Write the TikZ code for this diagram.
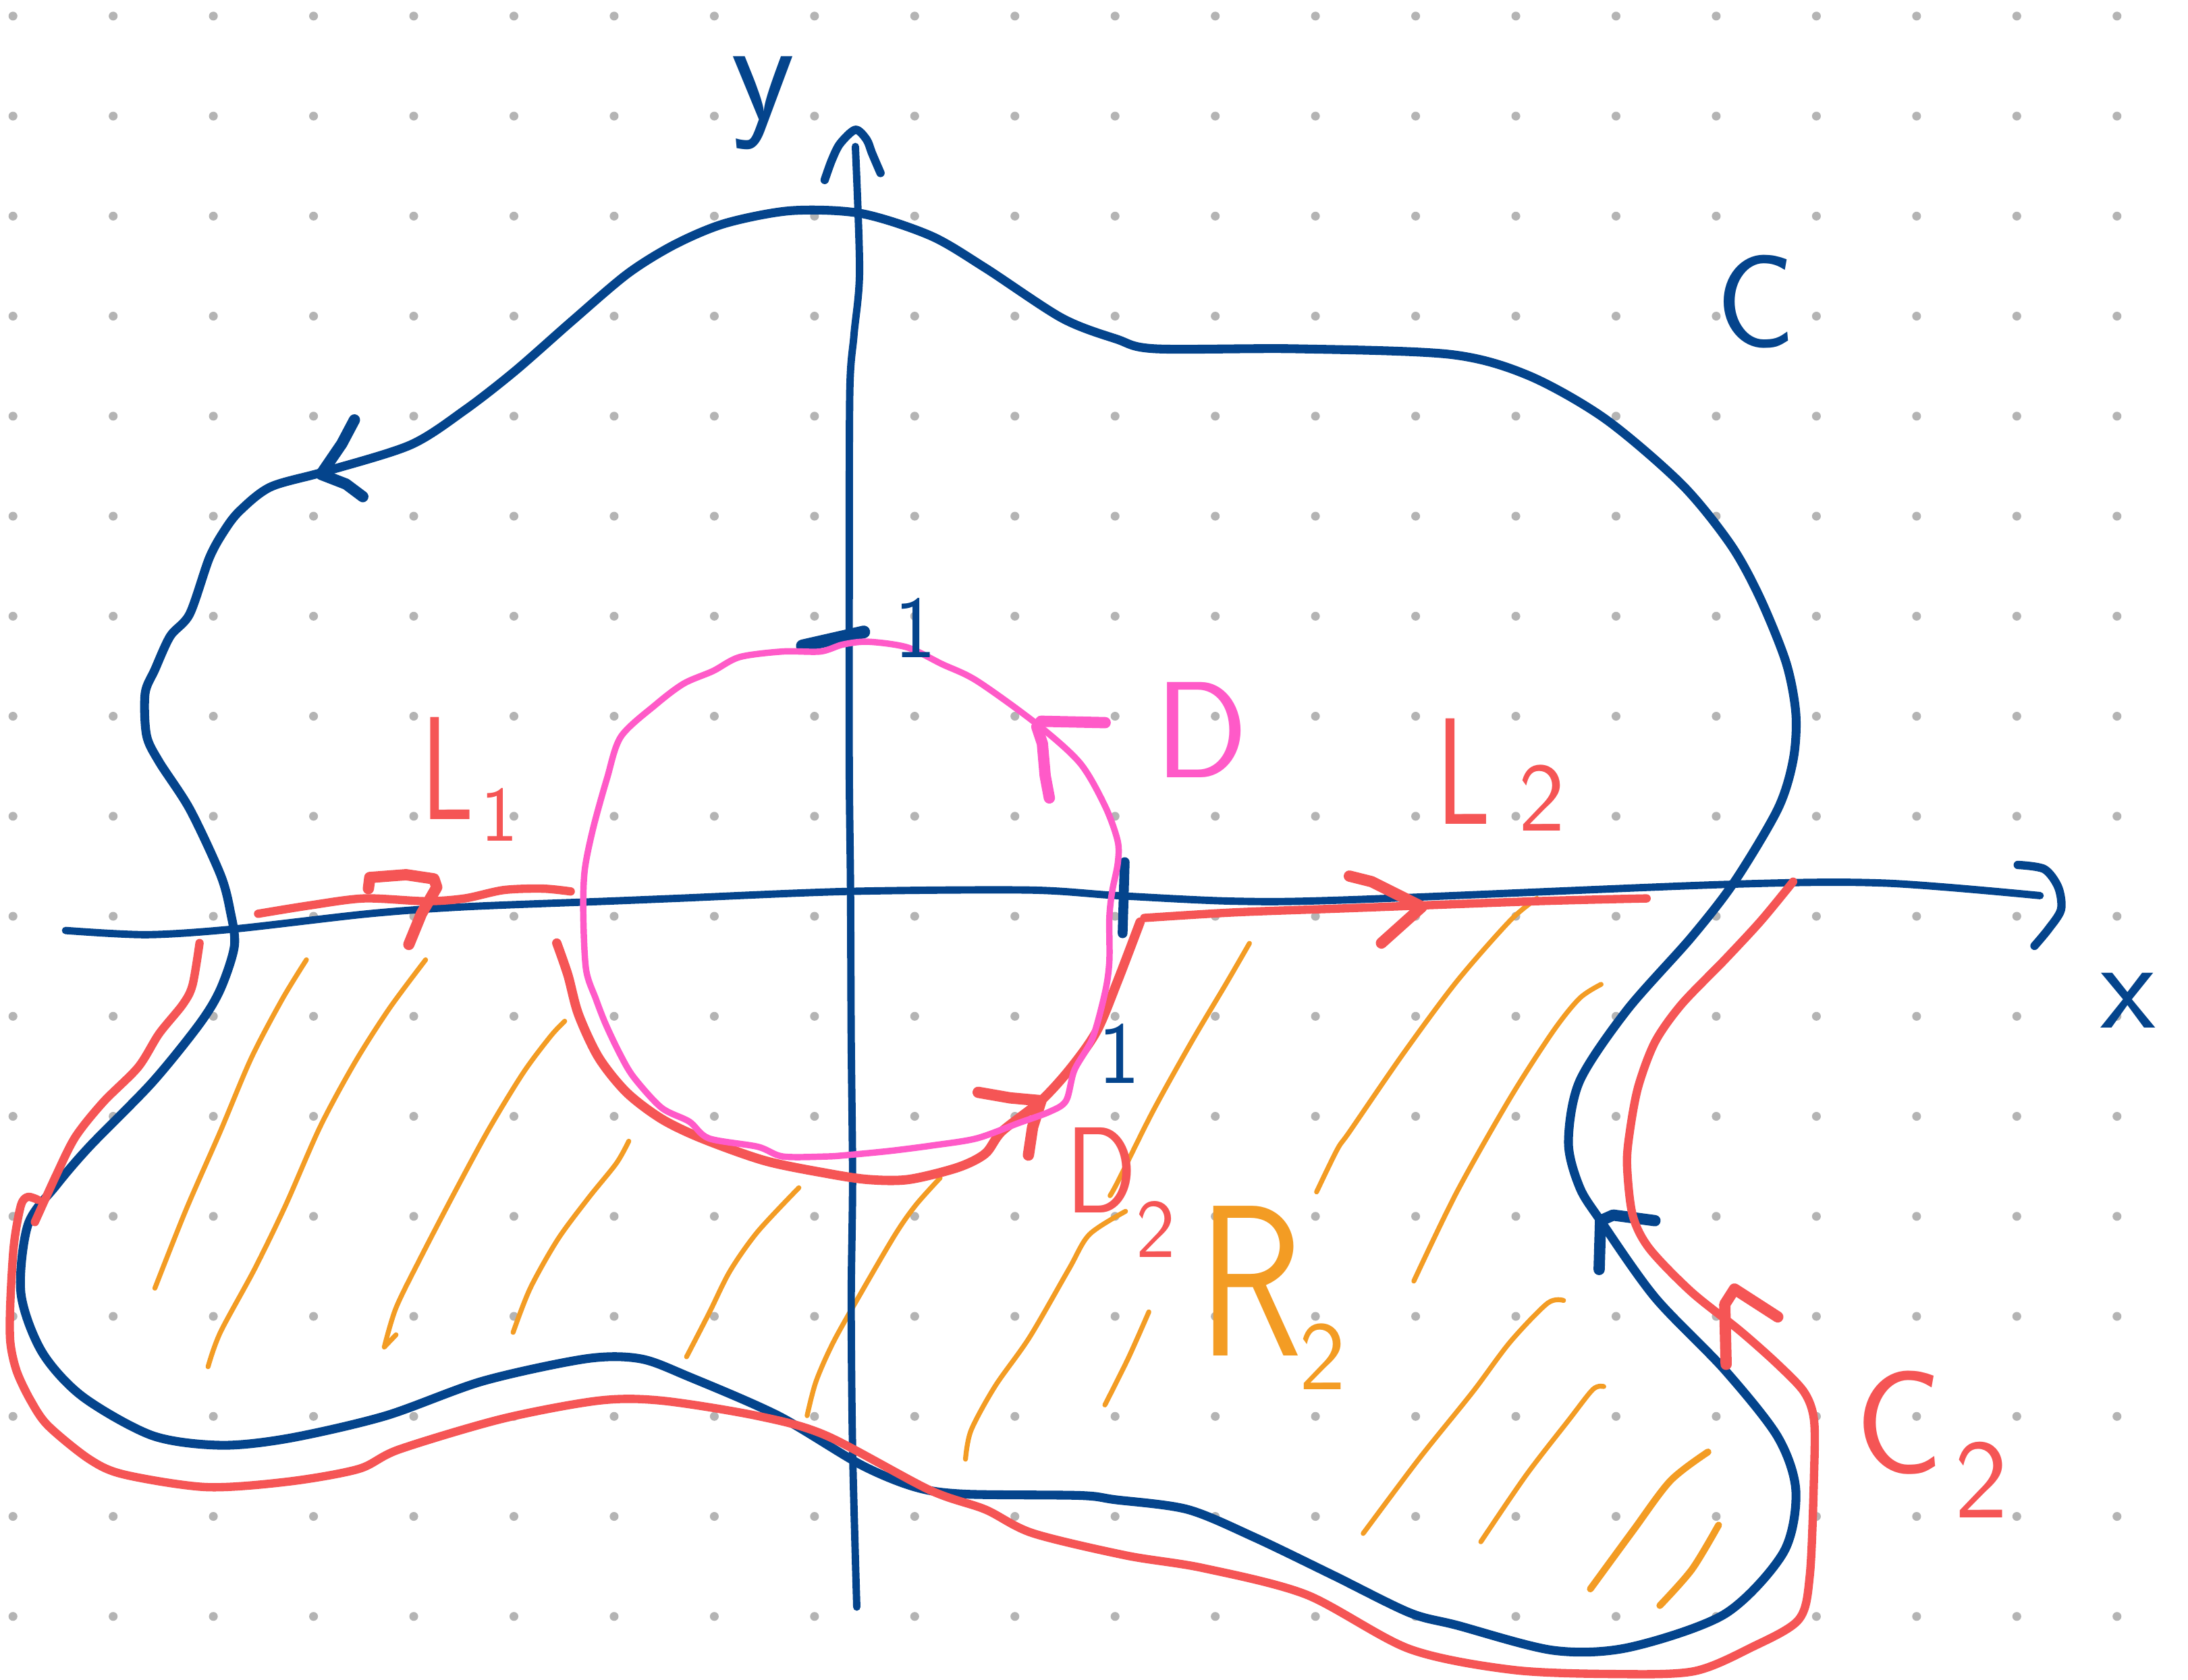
\documentclass[tikz,border=0pt]{standalone}
\usepackage{fontspec}
\usepackage{xcolor}
\usepackage{tikz}

\definecolor{inkblue}{RGB}{4,68,140}
\definecolor{inkred}{RGB}{245,85,85}
\definecolor{inkpink}{RGB}{255,90,200}
\definecolor{inkorange}{RGB}{243,156,36}
\definecolor{dotgrey}{RGB}{180,180,180}

\newcommand\labsize[1]{\fontsize{#1}{#1}\selectfont}

\tikzset{
  pen/.style={line cap=round, line join=round},
  bluepen/.style={pen, draw=inkblue, line width=1.8pt},
  axispen/.style={pen, draw=inkblue, line width=1.5pt},
  redpen/.style={pen, draw=inkred, line width=1.7pt},
  pinkpen/.style={pen, draw=inkpink, line width=1.3pt},
  hatchpen/.style={pen, draw=inkorange, line width=1pt},
  tippen/.style={pen, line width=2.3pt},
  lab/.style={inner sep=0pt, font=\sffamily},
}

\begin{document}
\begin{tikzpicture}[x=0.1mm, y=-0.1mm]
\path[use as bounding box, fill=white] (0,0) rectangle (1568,1204);

% dotted paper
\foreach \i in {0,...,21}
  \foreach \j in {0,...,16}
    \fill[dotgrey] ({9.3+71.8*\i},{11.5+71.7*\j}) circle (0.9pt);

% hatching of R_2
\draw[hatchpen] plot[smooth] coordinates {(219.6,688) (202.3,716.2) (180.1,758.4) (157.9,811) (133.3,867.2) (111,923.4)};
\draw[hatchpen] plot[smooth] coordinates {(305,688) (278.8,723.2) (254.2,761.8) (229.5,807.5) (204.8,863.7) (182.6,909.4) (157.9,955.1) (149.1,979.7)};
\draw[hatchpen] plot[smooth] coordinates {(404.7,732) (394.8,742.5) (375.1,768.8) (350.4,809.3) (325.7,854.9) (301,902.4) (283.8,937.5) (275.4,965.6)} -- (283.8,956.8);
\draw[hatchpen] plot[smooth] coordinates {(450.6,818) (441.7,833.9) (421.9,858.5) (399.8,888.3) (380,923.4) (367.7,955.1)};
\draw[hatchpen] plot[smooth] coordinates {(572.5,851.4) (542.9,883) (523.1,911.2) (508.3,941) (492,972.6)};
\draw[hatchpen] plot[smooth] coordinates {(673.7,844.4) (656.4,863.7) (641.6,884.8) (616.9,927) (597.2,962.1) (584.8,990.2) (578.4,1014.8)};
\draw[hatchpen] plot[smooth] coordinates {(806.6,868.3) (780.7,884.9) (765.9,909.9) (737.8,958.6) (713.1,993.7) (695.9,1025.3) (691.9,1046)};
\draw[hatchpen] plot[smooth] coordinates {(823.3,940.4) (808.5,973.7) (791.8,1007.1)};
\draw[hatchpen] plot[smooth] coordinates {(895.4,676.2) (878.5,705.4) (853.8,747) (826,797) (801.4,846.4) (795.5,857.1)};
\draw[hatchpen] plot[smooth] coordinates {(1101.4,644) (1082.2,659.9) (1043.9,703.6) (1005.6,755.3) (967.3,811) (958.4,823.8) (943.5,854.4)};
\draw[hatchpen] plot[smooth] coordinates {(1147.4,705.6) (1132,715.6) (1112.9,739.4) (1082.2,787.1) (1043.9,854.7) (1013.2,918.3)};
\draw[hatchpen] plot[smooth] coordinates {(1120.5,932.2) (1109,934.2) (1082.2,962) (1055.4,997.8) (1017.1,1045.5) (976.9,1099.2)};
\draw[hatchpen] plot[smooth] coordinates {(1149.3,993.9) (1141.6,995.9) (1124.4,1017.7) (1093.7,1057.4) (1061.2,1105.2)};
\draw[hatchpen, line width=1.4pt] plot[smooth] coordinates {(1224,1040.8) (1197.1,1061.4) (1170.3,1097.2) (1139.7,1139)};
\draw[hatchpen, line width=1.4pt] plot[smooth] coordinates {(1231.6,1093.2) (1212.5,1125) (1189.5,1150.9)};

% axes
\draw[axispen] plot[smooth] coordinates {(47,667) (105,670) (167,666) (264,655) (333,650) (435,646) (484,644) (607,639) (737,638) (801,642) (885,646) (967,645) (1236,634) (1350,633) (1462,642)};
\draw[axispen, line width=1.7pt] plot[smooth] coordinates {(1446,620) (1465,623) (1475,636) (1477,652) (1468,666) (1458,678)};
\draw[axispen] plot[smooth] coordinates {(614,1152) (611,1039) (610,934) (611,846) (610,744) (609.5,636) (608.6,550) (608.6,411) (609,280) (612,240) (616,194) (613,105)};
\draw[axispen, line width=1.7pt] plot[smooth] coordinates {(591,129) (596,115) (602,103) (613,93) (621,100) (625,110) (631,124)};
\draw[axispen, line width=2.6pt] (575,463) -- (619,453);
\draw[axispen, line width=2pt] (806,618) -- (804.5,669);

% curve C
\draw[bluepen] plot[smooth cycle, tension=0.5] coordinates {
  (333,294) (369,266) (410,230) (450,196) (484,175) (520,160) (567,151) (617,153)
  (667,169) (706,192) (761,228) (800,243) (828,250) (928,250) (1039,254) (1095,269)
  (1150,300) (1205,347) (1240,390) (1261,428) (1280,475) (1287,512) (1285,545) (1274,580)
  (1243,632) (1212,672) (1166,724) (1132,775) (1124,819) (1132,851) (1147,875) (1186,930)
  (1236,982) (1274,1030) (1287,1069) (1278,1113) (1236,1157) (1167,1181) (1113,1183) (1044,1165)
  (1010,1156) (955,1129) (899,1102) (851,1082) (799,1075) (774,1072) (691,1071) (656,1066)
  (617,1050) (558,1015) (494,987) (459,974) (420,974) (346,990) (276,1015) (207,1031)
  (158,1036) (109,1029) (59,1001) (30,969) (15,927) (20,878) (40,850) (64,822)
  (109,776) (143,734) (158,709) (168,678) (165,653) (158,627) (136,580) (114,546)
  (105,527) (104,497) (111,480) (122,456) (136,440) (150,400) (161,380) (172,366)
  (194,349) (233,338) (294,319)};
\draw[bluepen, tippen] (254,301) -- (245,318) -- (230,340) -- (248,347) -- (260,356);
\draw[bluepen, tippen] (1186,875) -- (1156,871) -- (1147,875) -- (1146,910);

% curve C_2
\draw[redpen] plot[smooth] coordinates {(143,676) (138,706) (131,720) (114,741) (99,765) (74,790) (54,815) (40,843) (25,876)};
\draw[redpen] plot[smooth, tension=0.5] coordinates {
  (27,860) (20,858) (15,864) (10,892) (7.4,934) (7.4,962) (12,983) (22,1004) (34.5,1022)
  (64,1046) (89,1057) (148,1066) (207,1062) (257,1053) (286,1039) (360,1017) (429,1004)
  (474,1004) (543,1015) (592,1029) (666,1068) (706,1082) (740,1099) (807,1115) (862,1124)
  (936,1143) (1010,1182) (1084,1197) (1158,1200) (1214,1198) (1255,1181) (1289,1161) (1297,1129)
  (1300,1057) (1300,1018) (1293,998) (1274,978) (1247,954) (1212,926) (1182,895) (1170,871)
  (1166,835) (1168,811) (1174,779) (1186,747) (1205,720) (1236,688) (1262,660) (1285,632)};
\draw[redpen, tippen] (1274,944) -- (1243,924) -- (1236,935) -- (1237,978);

% lines L_1 and L_2
\draw[redpen] plot[smooth] coordinates {(185,655) (222,649) (261,644) (305,646) (333,644) (361,638) (389,637) (409,639)};
\draw[redpen, tippen] (264,637) -- (265,629) -- (291,627) -- (311,630) -- (313,636) -- (302,655) -- (293,677);
\draw[redpen] plot[smooth] coordinates {(820,658) (885,654) (967,651) (1101,646) (1180,644)};
\draw[redpen, tippen] (967,628) -- (983,632) -- (1019,650) -- (990,676);

% half circle D_2
\draw[redpen, line width=1.9pt] plot[smooth] coordinates {(399,676) (407,699) (414.5,727) (429,758) (449,783) (474,802) (503,816) (548,832) (592,841) (622,845.5) (651,845.5) (686,837) (706,827) (718,811) (746,789) (767,766) (786,739) (801,703) (817,661)};
\draw[redpen, tippen] (701,783) -- (724,787) -- (746,789) -- (740,808) -- (737,828);

% circle D
\draw[pinkpen] plot[smooth cycle, tension=0.5] coordinates {
  (604,462) (622,460) (650,464) (675,476) (700,488) (743,519) (774,547) (792,578)
  (801,603) (801,619) (797,639) (795,658) (795,689) (792,711) (783,744) (770,767)
  (764,789) (752,797) (730,805) (700,816) (669,821) (638,825) (607,828) (592,829)
  (561,829) (543,822) (508,816) (494,804) (474,794) (454,772) (444,755) (434,734)
  (427,716) (420,695) (418,655) (419,624) (425,594) (435,558) (445,528) (470,505)
  (490,490) (511,481) (530,471) (561,467) (588,467)};
\draw[pinkpen, tippen] (792,518) -- (746,517) -- (743,521) -- (747,533) -- (749,556) -- (752,572);

% labels
\node[lab, text=inkblue] (ylab) at (547,74) {\labsize{30}y};
\node[lab, text=inkblue] (xlab) at (1525,717) {\labsize{26}x};
\node[lab, text=inkblue] (clab) at (1258,216) {\labsize{27}C};
\node[lab, text=inkblue] (yone) at (656,450) {\labsize{18}1};
\node[lab, text=inkblue] (xone) at (802,755) {\labsize{18}1};
\node[lab, text=inkpink] (dlab) at (861,523) {\labsize{28}D};
\node[lab, text=inkred] (lone) at (321,551) {\labsize{30}\scalebox{0.7}[1]{L}\rlap{\kern1.4pt\raisebox{-4.3pt}[0pt][0pt]{\labsize{16}1}}};
\node[lab, text=inkred] (ltwo) at (1049,553) {\labsize{31}\scalebox{0.7}[1]{L}\rlap{\kern5.7pt\raisebox{-1.4pt}[0pt][0pt]{\labsize{20}2}}};
\node[lab, text=inkred] (dtwo) at (789,839) {\labsize{25}\scalebox{0.85}[1]{D}\rlap{\kern0pt\raisebox{-9pt}[0pt][0pt]{\labsize{17}2}}};
\node[lab, text=inkorange] (rtwo) at (896,918) {\labsize{44}\scalebox{0.8}[1]{R}\rlap{\kern-0.6pt\raisebox{-7pt}[0pt][0pt]{\labsize{20}2}}};
\node[lab, text=inkred] (ctwo) at (1361,1020) {\labsize{30}C\rlap{\kern2.3pt\raisebox{-9pt}[0pt][0pt]{\labsize{23}2}}};
\end{tikzpicture}
\end{document}
